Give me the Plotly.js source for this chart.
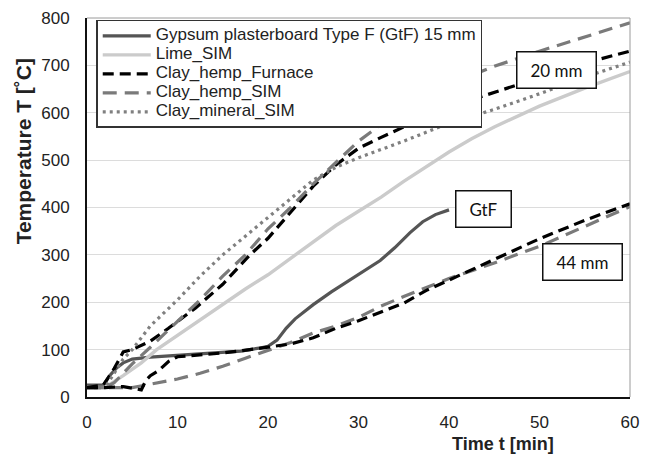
<!DOCTYPE html>
<html><head><meta charset="utf-8">
<script src="https://cdn.plot.ly/plotly-3.0.1.min.js"></script>
<style>body{margin:0;background:#fff}#c{width:650px;height:455px}</style>
</head><body><div id="c"></div>
<script>
// Gypsum plasterboard Type F (GtF) 15 mm
const tGtf = [0,1.8,2.5,3.3,4,5,7,10,14,17,19,20,21,22,23,24,25,27,30,32.4,34,35.7,37.1,38.5,40];
const TGtf = [25,25,45,62,72,80,84,88,92,97,103,107,120,145,165,180,195,222,258,288,315,347,370,385,395];
// Lime_SIM
const tLime = [0,2,4,6,7.7,10,12.5,15,17.5,20,22.5,25,27.5,30,32.5,35,37.5,40,42.5,45,50,55,60];
const TLime = [20,20,45,72,100,130,163,197,228,258,292,328,362,392,422,455,487,517,545,570,614,652,687];
// Clay_hemp_Furnace 20 mm
const tFur20 = [0,1.8,3,4,5,7,9,12,15,18,20,22.5,25,27.5,30,32.5,35,40,45,50,55,60];
const TFur20 = [20,25,60,95,100,118,145,188,238,300,335,390,445,490,525,548,570,612,643,675,705,730];
// Clay_hemp_SIM 20 mm
const tSim20 = [0,2,3,4,5,7,10,12.5,15,17.5,20,22.5,25,27.5,30,32.5,35,40,45,50,55,60];
const TSim20 = [20,20,30,50,70,105,160,205,255,300,355,400,450,495,540,575,610,660,698,730,760,790];
// Clay_mineral_SIM
const tMin = [0,2,3,4,5,7,10,12.5,15,17.5,20,22.5,25,27.5,30,35,40,45,50,55,60];
const TMin = [20,20,50,80,100,150,205,255,300,340,378,418,458,485,505,540,578,607,640,675,707];
// Clay_hemp_Furnace 44 mm
const tFur44 = [0,2,4,5.5,6,6.5,7,8,9,10,12,15,18,20,22.5,25,27.5,30,32.5,35,37.5,40,45,50,55,60];
const TFur44 = [20,20,22,18,15,35,45,57,75,85,88,93,100,105,112,125,145,161,180,198,225,247,290,334,373,408];
// Clay_hemp_SIM 44 mm
const tSim44 = [0,5,7,10,12.5,15,17.5,20,22.5,25,27.5,30,32.5,35,40,45,50,55,60];
const TSim44 = [20,20,27,38,50,65,82,98,115,135,150,168,192,212,250,283,318,360,402];

const names = ['Gypsum plasterboard Type F (GtF) 15 mm','Lime_SIM','Clay_hemp_Furnace','Clay_hemp_SIM','Clay_mineral_SIM'];
const labels = [{text:'20 mm', x:51.9, y:690, w:76}, {text:'GtF', x:43.8, y:396, w:52}, {text:'44 mm', x:54.8, y:284, w:76}];

const lg = n => '<span style="font-size:17px">' + n + '</span>';
const grayDash = '14px,8px', blackDash = '11px,6px';
const traces = [
  {x:tSim44, y:TSim44, name:lg(names[3]), legendgroup:'sim', showlegend:false, line:{color:'#7a7a7a', width:3.2, dash:grayDash}},
  {x:tFur44, y:TFur44, name:lg(names[2]), legendgroup:'fur', showlegend:false, line:{color:'#000', width:3.2, dash:blackDash}},
  {x:tGtf, y:TGtf, name:lg(names[0]), legendgroup:'gtf', line:{color:'#555', width:3.2}},
  {x:tLime, y:TLime, name:lg(names[1]), legendgroup:'lime', line:{color:'#cbcbcb', width:3.4}},
  {x:tFur20, y:TFur20, name:lg(names[2]), legendgroup:'fur', line:{color:'#000', width:3.2, dash:blackDash}},
  {x:tSim20, y:TSim20, name:lg(names[3]), legendgroup:'sim', line:{color:'#7a7a7a', width:3.2, dash:grayDash}},
  {x:tMin, y:TMin, name:lg(names[4]), legendgroup:'min', line:{color:'#808080', width:3.2, dash:'3px,4px'}}
].map(t => Object.assign({type:'scatter', mode:'lines'}, t));

const order = [2,3,4,5,6,0,1];
const data = order.map(i => traces[i]);

const annotations = labels.map(l => ({
  x:l.x, y:l.y, xref:'x', yref:'y', text:l.text, showarrow:false,
  width:l.w, height:33, borderpad:1, bordercolor:'#111', borderwidth:1.5, bgcolor:'#fff',
  font:{family:'Lato, "Open Sans", sans-serif', size:17, color:'#111'}
}));
annotations.push({xref:'paper', yref:'paper', x:0.767, y:-0.124, xanchor:'center', yanchor:'middle', showarrow:false,
  text:'<b>Time t [min]</b>', font:{family:'"Liberation Sans", Arial, sans-serif', size:18, color:'#222'}});
annotations.push({xref:'paper', yref:'paper', x:-0.118, y:0.648, xanchor:'center', yanchor:'middle', showarrow:false, textangle:-90,
  text:'<b>Temperature T [˚C]</b>', font:{family:'"Liberation Sans", Arial, sans-serif', size:21, color:'#222'}});

const layout = {
  width:650, height:455,
  margin:{l:87, r:20, t:18, b:58},
  paper_bgcolor:'#fff', plot_bgcolor:'#fff',
  showlegend:true,
  legend:{x:0.017, y:0.995, xanchor:'left', yanchor:'top', bgcolor:'#fff', bordercolor:'#333', borderwidth:1.5,
    itemwidth:48, font:{family:'"Liberation Sans", Arial, sans-serif', size:10, color:'#222'}, tracegroupgap:0},
  xaxis:{range:[0,60], dtick:10, tick0:0, showgrid:false, zeroline:false, showline:true, linecolor:'#111', linewidth:2,
    ticks:'', ticklabelstandoff:9, tickfont:{family:'"Liberation Sans", Arial, sans-serif', size:17, color:'#222'}},
  yaxis:{range:[0,800], dtick:100, tick0:0, showgrid:true, gridcolor:'#dcdcdc', gridwidth:1, zeroline:false,
    showline:true, linecolor:'#111', linewidth:2, ticks:'', ticklabelstandoff:12,
    tickfont:{family:'"Liberation Sans", Arial, sans-serif', size:17, color:'#222'}},
  shapes:[
    {type:'line', xref:'paper', yref:'paper', x0:0, x1:1, y0:1, y1:1, line:{color:'#9a9a9a', width:1}},
    {type:'line', xref:'paper', yref:'paper', x0:1, x1:1, y0:0, y1:1, line:{color:'#9a9a9a', width:1}}
  ],
  annotations:annotations
};
Plotly.newPlot('c', data, layout, {displayModeBar:false, staticPlot:true});
</script></body></html>
